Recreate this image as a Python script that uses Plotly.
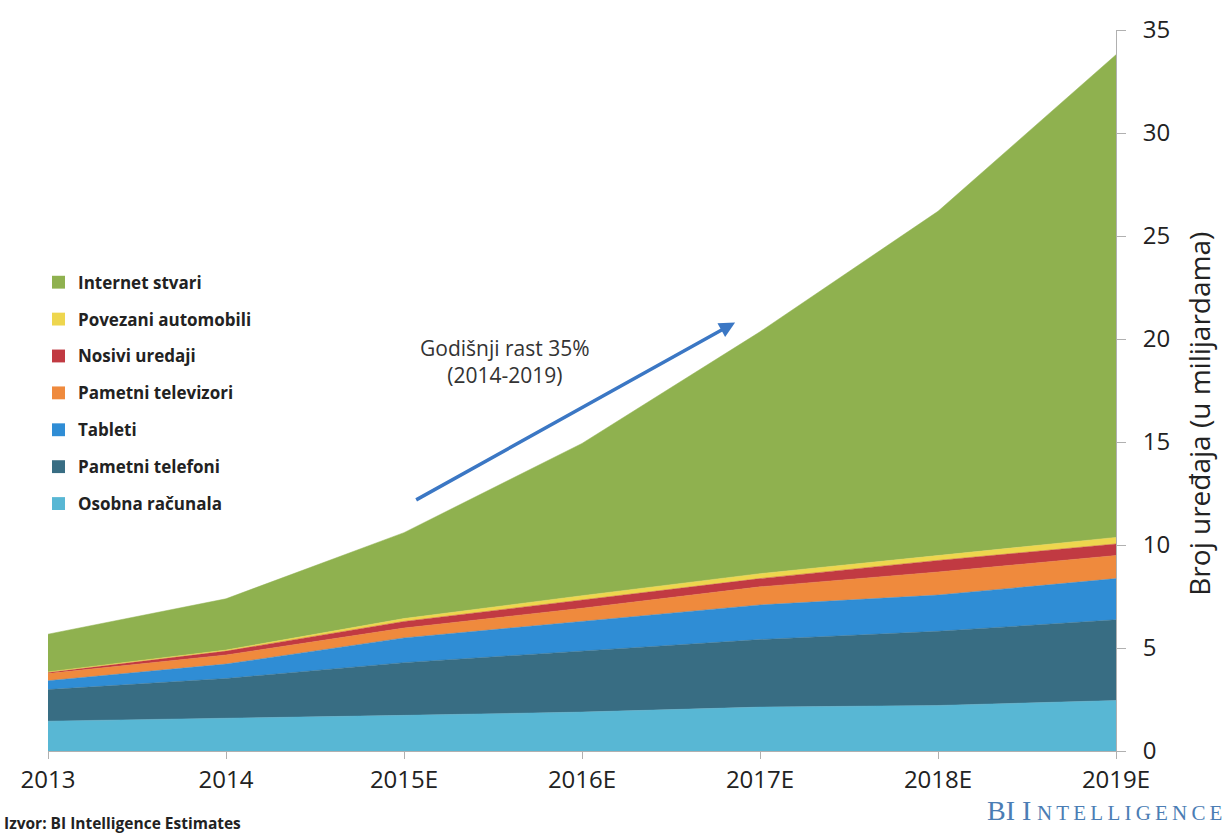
import plotly.graph_objects as go

years = ["2013", "2014", "2015E", "2016E", "2017E", "2018E", "2019E"]
x_pos = list(range(len(years)))

osobna_racunala = [1.45, 1.58, 1.73, 1.89, 2.13, 2.21, 2.45]
pametni_telefoni = [1.53, 1.94, 2.56, 2.96, 3.28, 3.60, 3.92]
tableti = [0.43, 0.70, 1.20, 1.44, 1.68, 1.76, 2.00]
pametni_televizori = [0.35, 0.44, 0.48, 0.64, 0.88, 1.12, 1.12]
nosivi_uredaji = [0.05, 0.19, 0.32, 0.40, 0.40, 0.56, 0.56]
povezani_automobili = [0.03, 0.05, 0.14, 0.21, 0.24, 0.24, 0.32]
internet_stvari = [1.83, 2.49, 4.17, 7.39, 11.74, 16.71, 23.43]

series_names = ["Osobna računala", "Pametni telefoni", "Tableti", "Pametni televizori",
                "Nosivi uredaji", "Povezani automobili", "Internet stvari"]
series_values = [osobna_racunala, pametni_telefoni, tableti, pametni_televizori,
                 nosivi_uredaji, povezani_automobili, internet_stvari]
series_colors = ["#58b7d4", "#386d83", "#2f8dd5", "#ef8a3d", "#c13a42", "#eed64e", "#8fb14f"]

W, H = 1227, 837
ML, MR, MT, MB = 48, 111, 22, 86
PW, PH = W - ML - MR, H - MT - MB

fig = go.Figure()
for name, vals, col in zip(series_names, series_values, series_colors):
    fig.add_trace(go.Scatter(
        x=x_pos, y=vals, name=name,
        mode="lines", stackgroup="one",
        line=dict(width=0.5, color=col), fillcolor=col,
        showlegend=False,
    ))

# custom legend (top item = last series)
legend_top_px = 277
legend_step_px = 37.3
for i, (name, col) in enumerate(zip(reversed(series_names), reversed(series_colors))):
    cy = legend_top_px + i * legend_step_px
    yp = (H - MB - cy) / PH
    x0 = (52 - ML) / PW
    x1 = (65 - ML) / PW
    fig.add_shape(type="rect", xref="paper", yref="paper",
                  x0=x0, x1=x1, y0=yp - 6.5 / PH, y1=yp + 6.5 / PH,
                  fillcolor=col, line=dict(width=0))
    fig.add_annotation(x=(76 - ML) / PW, y=yp, xref="paper", yref="paper",
                       xanchor="left", yanchor="middle", showarrow=False,
                       text="<b>%s</b>" % name,
                       font=dict(size=17, family="Open Sans", color="#222222"))

fig.update_layout(
    width=W, height=H,
    margin=dict(l=ML, r=MR, t=MT, b=MB),
    paper_bgcolor="white", plot_bgcolor="white",
    font=dict(family="Open Sans", color="#222222"),
    showlegend=False,
    xaxis=dict(
        range=[0, 6], tickvals=x_pos, ticktext=years,
        showgrid=False, zeroline=False,
        showline=True, linecolor="#b0b0b0", linewidth=1,
        ticks="outside", ticklen=7, tickcolor="#b0b0b0",
        tickfont=dict(size=24, family="Open Sans", color="#222222"),
    ),
    yaxis=dict(
        range=[0, 35], side="right", dtick=5,
        showgrid=False, zeroline=False,
        showline=True, linecolor="#b0b0b0", linewidth=1,
        ticks="outside", ticklen=9, tickcolor="#b0b0b0",
        ticklabelstandoff=12,
        tickfont=dict(size=24, family="Open Sans", color="#222222"),
    ),
)

fig.add_annotation(
    x=1, y=(H - MB - 410) / PH, xref="paper", yref="paper",
    xanchor="center", yanchor="middle", xshift=83,
    text="Broj uređaja (u milijardama)", textangle=-90, showarrow=False,
    font=dict(size=28, family="Open Sans", color="#222222"),
)
fig.add_annotation(
    x=3.86, y=20.8, ax=2.06, ay=12.15,
    xref="x", yref="y", axref="x", ayref="y",
    showarrow=True, arrowhead=2, arrowsize=0.9, arrowwidth=3.5,
    arrowcolor="#3b77c4", text="",
)
fig.add_annotation(
    x=2.57, y=18.9, xref="x", yref="y",
    text="Godišnji rast 35%<br>(2014-2019)", showarrow=False,
    font=dict(size=21, family="Open Sans", color="#333333"),
    align="center",
)
fig.add_annotation(
    x=0, y=0, xref="paper", yref="paper", xanchor="left", yanchor="bottom",
    xshift=-46, yshift=-85,
    text="<b>Izvor: BI Intelligence Estimates</b>", showarrow=False,
    font=dict(size=15.5, family="Open Sans", color="#222222"),
)
spaced = "\u2009".join("NTELLIGENCE")
fig.add_annotation(
    x=1, y=0, xref="paper", yref="paper", xanchor="right", yanchor="top",
    xshift=108, yshift=-42,
    text="BI&nbsp;I\u2009<span style='font-size:21px'>%s</span>" % spaced, showarrow=False,
    font=dict(size=28, family="Liberation Serif", color="#4b7db4"),
)

fig.write_html("out.html")
